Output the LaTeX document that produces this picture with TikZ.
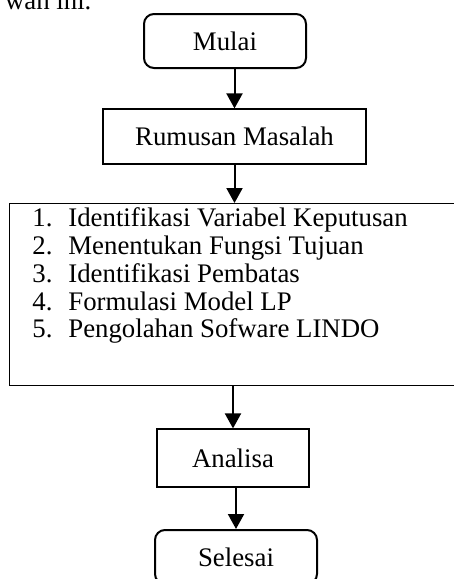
\documentclass[tikz,border=0pt]{standalone}
\usepackage{fontspec}
\setmainfont{Liberation Serif}
\usetikzlibrary{arrows.meta}

\begin{document}
\begin{tikzpicture}[x=0.5pt,y=-0.5pt,font=\fontsize{13.4}{13.9}\selectfont,
  >={Triangle[length=7.5pt,width=8pt]},
  terminal/.style={draw,line width=1pt,rounded corners=5pt,
    minimum width=81pt,minimum height=27pt,inner sep=0pt},
  process/.style={draw,line width=0.6pt,inner sep=0pt},
  flow/.style={->,line width=1pt}]
  \useasboundingbox (0,0) rectangle (454,579);

  \node[anchor=base west] (lead) at (-2,9) {wah ini.};

  \node[terminal] (mulai) at (225,41) {Mulai};
  \node[process,minimum width=131.5pt,minimum height=27.5pt]
    (rumusan) at (234.5,136.5) {Rumusan Masalah};

  % frame of the five steps runs past the right edge
  \node[process,anchor=north west,minimum width=240pt,minimum height=91pt]
    (langkah) at (9,203) {};
  \node[anchor=north west,align=left,inner sep=0pt] (daftar) at (32,207.5)
    {\makebox[18pt][l]{1.}Identifikasi Variabel Keputusan\\
     \makebox[18pt][l]{2.}Menentukan Fungsi Tujuan\\
     \makebox[18pt][l]{3.}Identifikasi Pembatas\\
     \makebox[18pt][l]{4.}Formulasi Model LP\\
     \makebox[18pt][l]{5.}Pengolahan Sofware LINDO};

  \node[process,minimum width=76pt,minimum height=29pt]
    (analisa) at (233,458) {Analisa};
  \node[terminal] (selesai) at (236,557) {Selesai};

  \draw[flow] (rumusan.north |- mulai.south) -- (rumusan.north);
  \draw[flow] (rumusan.south) -- (rumusan.south |- langkah.north);
  \draw[flow] (analisa.north |- langkah.south) -- (analisa.north);
  \draw[flow] (selesai.north |- analisa.south) -- (selesai.north);
\end{tikzpicture}
\end{document}
